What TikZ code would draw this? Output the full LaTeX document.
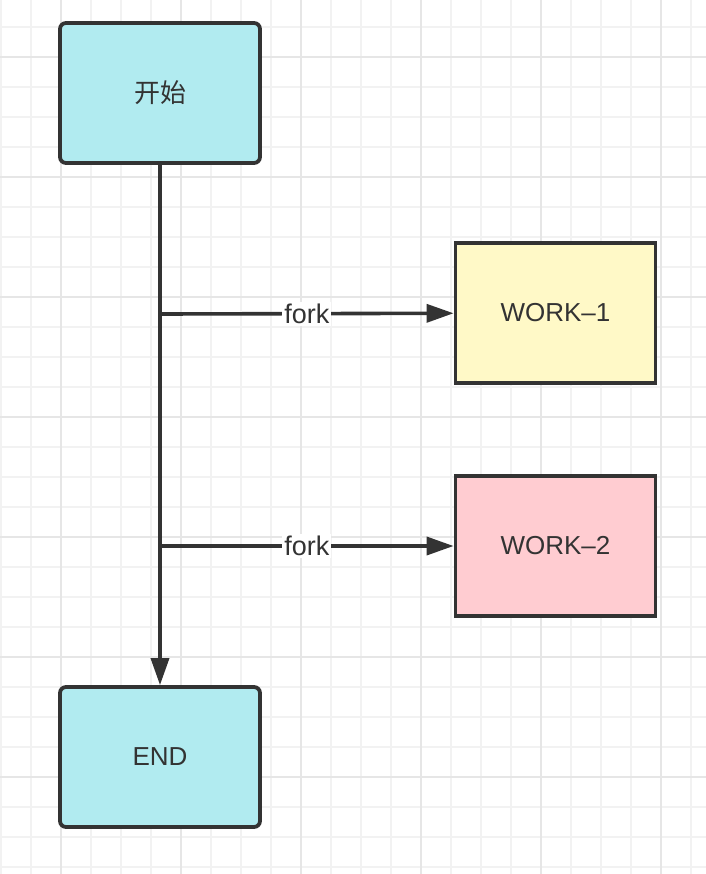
\documentclass[tikz,border=0pt]{standalone}
\usepackage{fontspec}
\setmainfont{Liberation Sans}
\newfontfamily\cjk{Noto Sans CJK SC}
\usepackage{xcolor}
\usetikzlibrary{positioning, arrows.meta, calc}

\definecolor{ink}{HTML}{333333}
\definecolor{startfill}{HTML}{B1EBF0}
\definecolor{workyellow}{HTML}{FFF9C7}
\definecolor{workpink}{HTML}{FFCCD1}
\definecolor{gridminor}{HTML}{F2F2F2}
\definecolor{gridmajor}{HTML}{E6E6E6}

\begin{document}
\begin{tikzpicture}[
        x=0.5pt, y=-0.5pt,
        >={Triangle[length=13.5pt, width=9pt]},
        terminal/.style={rectangle, rounded corners=3pt, draw=ink, line width=1.9pt,
            minimum width=100pt, minimum height=70pt, fill=startfill,
            text=ink, font=\fontsize{13}{15}\selectfont},
        task/.style={rectangle, draw=ink, line width=1.9pt,
            minimum width=100pt, minimum height=70pt,
            text=ink, font=\fontsize{13}{15}\selectfont},
        flow/.style={draw=ink, line width=1.8pt, ->},
        forklabel/.style={fill=white, text=ink, inner sep=1pt,
            font=\fontsize{13.5}{15}\selectfont}
    ]
        % canvas and grid
        \fill[white] (0,0) rectangle (706,874);
        \useasboundingbox (0,0) rectangle (706,874);
        \foreach \x in {1,31,...,706} \draw[gridminor, line width=1pt] (\x,0) -- (\x,874);
        \foreach \y in {27,57,...,874} \draw[gridminor, line width=1pt] (0,\y) -- (706,\y);
        \foreach \x in {61,181,...,706} \draw[gridmajor, line width=1.2pt] (\x,0) -- (\x,874);
        \foreach \y in {57,177,...,874} \draw[gridmajor, line width=1.2pt] (0,\y) -- (706,\y);

        \node[terminal] (start) at (160, 93)  {\cjk 开始};
        \node[task, fill=workyellow] (work1) at (555.5, 313) {WORK–1};
        \node[task, fill=workpink]   (work2) at (555.5, 546) {WORK–2};
        \node[terminal] (end) at (160, 757) {END};

        \coordinate (fork1) at (160, 314);
        \coordinate (fork2) at (160, 546);

        \draw[flow] (start) -- (end);
        \draw[flow] (fork1) -- node[forklabel]{fork} (work1);
        \draw[flow] (fork2) -- node[forklabel]{fork} (work2);
    \end{tikzpicture}
\end{document}
